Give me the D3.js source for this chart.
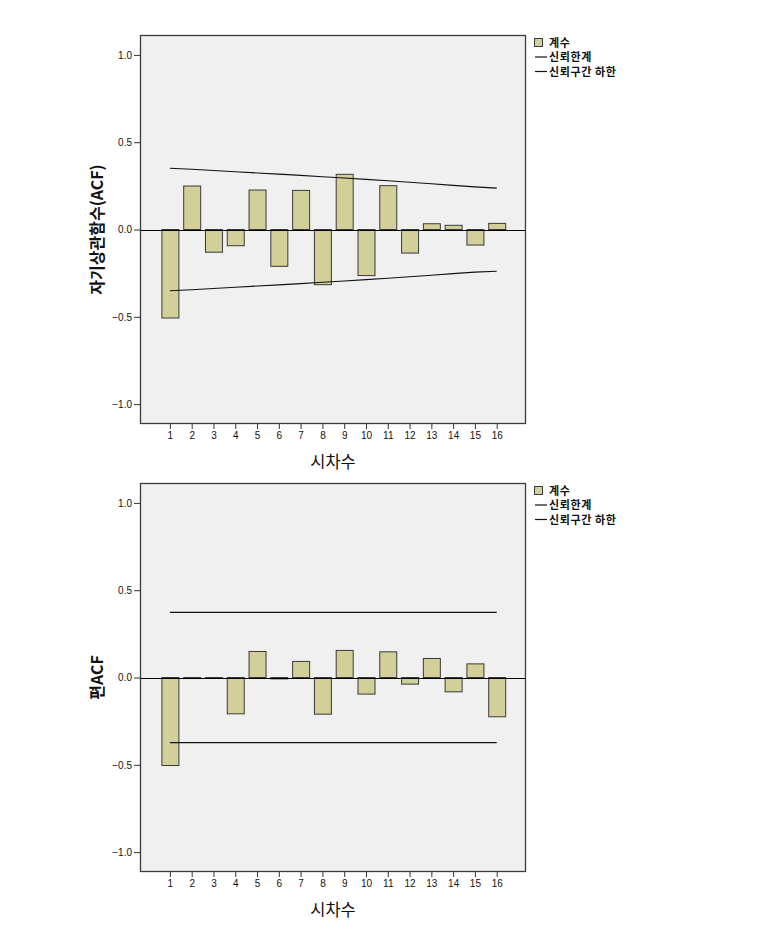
<!DOCTYPE html>
<html>
<head>
<meta charset="utf-8">
<script src="https://cdn.jsdelivr.net/npm/d3@7"></script>
<style>
  body { margin: 0; background: #ffffff; }
  svg { display: block; }
</style>
</head>
<body>
<svg id="chart" width="768" height="951"></svg>
<script>
// ---- data ----
const lags = [1, 2, 3, 4, 5, 6, 7, 8, 9, 10, 11, 12, 13, 14, 15, 16];
const acfValues = [-0.507, 0.249, -0.130, -0.093, 0.226, -0.211, 0.224, -0.316, 0.316, -0.264, 0.251, -0.135, 0.033, 0.024, -0.089, 0.035];
const acfUpper = [0.351, 0.345, 0.338, 0.331, 0.324, 0.317, 0.310, 0.302, 0.295, 0.287, 0.279, 0.271, 0.262, 0.253, 0.244, 0.237];
const acfLower = [-0.351, -0.345, -0.338, -0.331, -0.324, -0.317, -0.310, -0.302, -0.295, -0.287, -0.279, -0.271, -0.262, -0.253, -0.244, -0.239];
const pacfValues = [-0.504, -0.006, -0.004, -0.208, 0.149, -0.008, 0.092, -0.210, 0.155, -0.095, 0.147, -0.038, 0.109, -0.082, 0.078, -0.225];
const pacfUpper = [0.373, 0.373, 0.373, 0.373, 0.373, 0.373, 0.373, 0.373, 0.373, 0.373, 0.373, 0.373, 0.373, 0.373, 0.373, 0.373];
const pacfLower = [-0.373, -0.373, -0.373, -0.373, -0.373, -0.373, -0.373, -0.373, -0.373, -0.373, -0.373, -0.373, -0.373, -0.373, -0.373, -0.373];
const yTicks = [-1.0, -0.5, 0.0, 0.5, 1.0];
const legendLabels = ["계수", "신뢰한계", "신뢰구간 하한"];
const xTitle = "시차수";
const yTitles = ["자기상관함수(ACF)", "편ACF"];

// ---- styles ----
const barFill = "#d3cf98";
const barStroke = "#3a3a3a";
const plotBg = "#f0f0f0";
const frameColor = "#3c3c3c";
const tickFont = "'Liberation Sans', Arial, sans-serif";
const krFont = "'Noto Sans CJK KR', 'Noto Sans', sans-serif";

const svg = d3.select("#chart");

function drawChart(top, values, upper, lower, yTitle) {
  const left = 140, right = 526, height = 389;
  const bottom = top + height;
  const g = svg.append("g");

  const x = d3.scaleBand().domain(lags).range([159, 507.6]).paddingInner(0.22).paddingOuter(0.11);
  const y = d3.scaleLinear().domain([-1.114, 1.114]).range([bottom, top]);

  g.append("rect").attr("x", left).attr("y", top).attr("width", right - left).attr("height", height)
    .attr("fill", plotBg);

  // bars
  g.selectAll("rect.bar").data(lags).join("rect").attr("class", "bar")
    .attr("x", d => x(d) + 0.5)
    .attr("width", x.bandwidth())
    .attr("y", (d, i) => Math.min(y(values[i]), y(0)))
    .attr("height", (d, i) => Math.abs(y(values[i]) - y(0)))
    .attr("fill", barFill)
    .attr("stroke", barStroke)
    .attr("stroke-width", 1);

  // zero line
  g.append("line").attr("x1", left).attr("x2", right).attr("y1", Math.round(y(0)) + 0.5).attr("y2", Math.round(y(0)) + 0.5)
    .attr("stroke", "#000").attr("stroke-width", 1);

  // confidence lines
  const line = d3.line().x(d => x(d[0]) + x.bandwidth() / 2).y(d => y(d[1]));
  g.append("path").datum(lags.map((l, i) => [l, upper[i]])).attr("d", line)
    .attr("fill", "none").attr("stroke", "#111").attr("stroke-width", 1.1);
  g.append("path").datum(lags.map((l, i) => [l, lower[i]])).attr("d", line)
    .attr("fill", "none").attr("stroke", "#111").attr("stroke-width", 1.1);

  // frame
  g.append("rect").attr("x", left + 0.5).attr("y", top + 0.5).attr("width", right - left - 1).attr("height", height - 1)
    .attr("fill", "none").attr("stroke", frameColor).attr("stroke-width", 1.3);

  // y axis
  const yAxis = d3.axisLeft(y).tickValues(yTicks).tickFormat(d3.format(".1f")).tickSize(6).tickPadding(2);
  const ya = g.append("g").attr("transform", `translate(${left},0)`).call(yAxis);
  ya.select(".domain").remove();
  ya.selectAll("line").attr("stroke", "#333");
  ya.selectAll("text").attr("font-family", tickFont).attr("font-size", 10).attr("fill", "#111");

  // x axis
  const xAxis = d3.axisBottom(x).tickSize(5).tickPadding(3);
  const xa = g.append("g").attr("transform", `translate(0.5,${bottom})`).call(xAxis);
  xa.select(".domain").remove();
  xa.selectAll("line").attr("stroke", "#333");
  xa.selectAll("text").attr("font-family", tickFont).attr("font-size", 10).attr("fill", "#111");

  // titles
  g.append("text").attr("x", (left + right) / 2).attr("y", bottom + 44)
    .attr("text-anchor", "middle").attr("font-family", krFont).attr("font-size", 16.5).attr("fill", "#111")
    .text(xTitle);
  g.append("text").attr("transform", `translate(103,${top + height / 2}) rotate(-90)`)
    .attr("text-anchor", "middle").attr("font-family", krFont).attr("font-size", 16).attr("font-weight", "bold")
    .attr("fill", "#111").text(yTitle);

  // legend
  const lg = g.append("g").attr("transform", `translate(534,${top})`);
  lg.append("rect").attr("x", 0.5).attr("y", 3.5).attr("width", 8).attr("height", 8)
    .attr("fill", barFill).attr("stroke", barStroke);
  [1, 2].forEach(i => {
    lg.append("line").attr("x1", 1).attr("x2", 13).attr("y1", 7.5 + i * 14.5).attr("y2", 7.5 + i * 14.5)
      .attr("stroke", "#111").attr("stroke-width", 1.2);
  });
  legendLabels.forEach((t, i) => {
    lg.append("text").attr("x", 15).attr("y", 11.5 + i * 14.5).attr("font-family", krFont)
      .attr("font-size", 11).attr("font-weight", "bold").attr("letter-spacing", 0.6).attr("fill", "#111").text(t);
  });
}

drawChart(35, acfValues, acfUpper, acfLower, yTitles[0]);
drawChart(483, pacfValues, pacfUpper, pacfLower, yTitles[1]);
</script>
</body>
</html>
